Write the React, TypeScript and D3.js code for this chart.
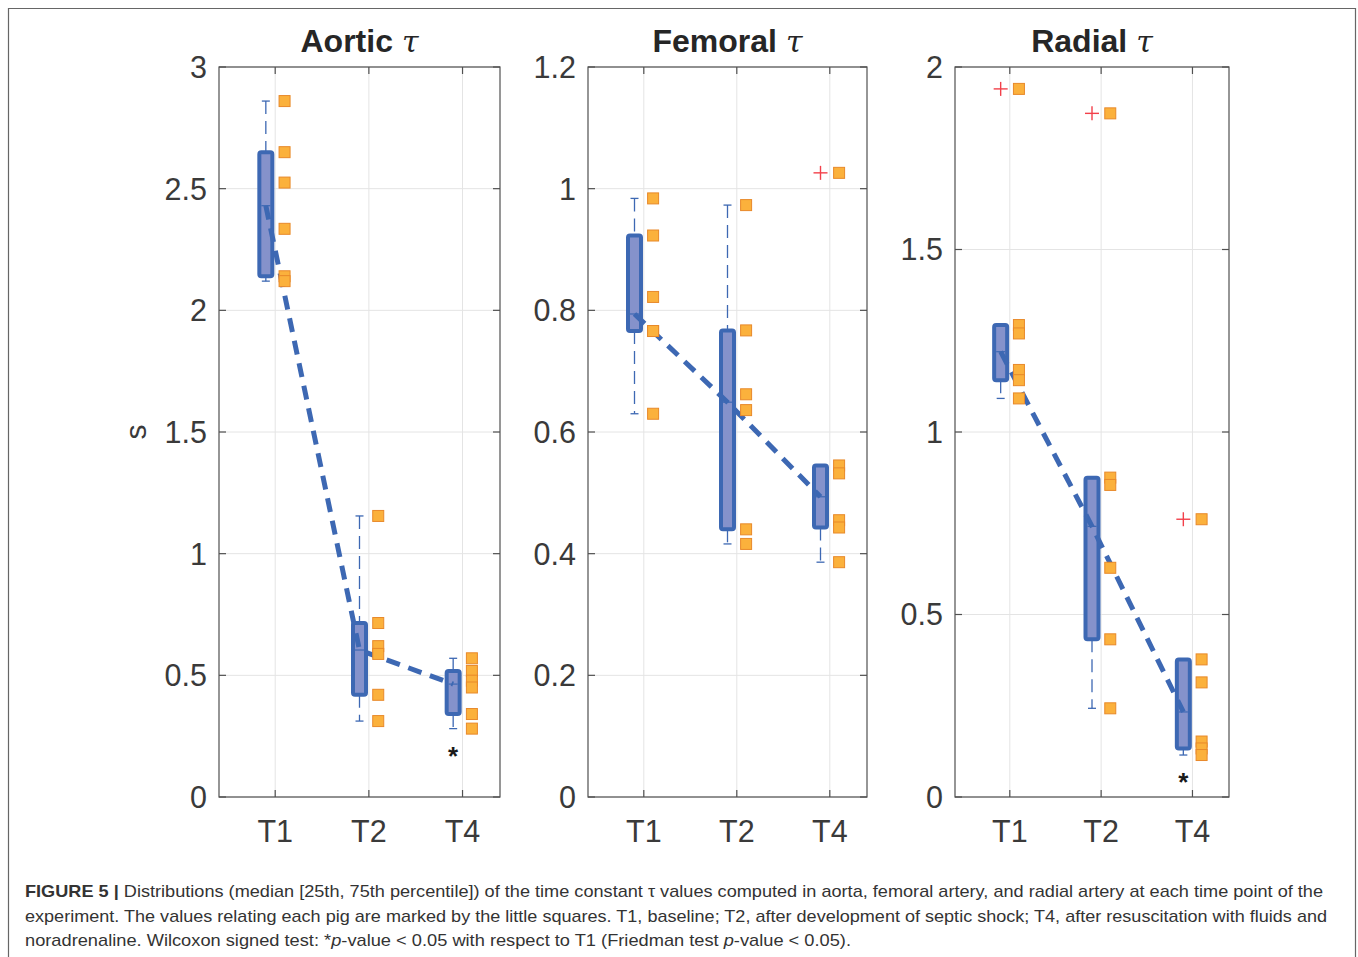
import React from "react";
import * as d3 from "d3";

const categories = ["T1", "T2", "T4"];
const panelTitles = ["Aortic", "Femoral", "Radial"];
const yMaxes = [3, 1.2, 2];
const aorticTicks = [0, 0.5, 1, 1.5, 2, 2.5, 3];
const femoralTicks = [0, 0.2, 0.4, 0.6, 0.8, 1, 1.2];
const radialTicks = [0, 0.5, 1, 1.5, 2];
const aorticTickLabels = ["0", "0.5", "1", "1.5", "2", "2.5", "3"];
const femoralTickLabels = ["0", "0.2", "0.4", "0.6", "0.8", "1", "1.2"];
const radialTickLabels = ["0", "0.5", "1", "1.5", "2"];

// values of each pig (6 pigs) per time point
const aorticT1 = [2.86, 2.65, 2.525, 2.335, 2.14, 2.12];
const aorticT2 = [1.155, 0.715, 0.62, 0.588, 0.42, 0.312];
const aorticT4 = [0.57, 0.518, 0.478, 0.45, 0.341, 0.281];
const femoralT1 = [0.984, 0.923, 0.822, 0.766, 0.766, 0.63];
const femoralT2 = [0.973, 0.767, 0.662, 0.636, 0.44, 0.416];
const femoralT4 = [1.026, 0.545, 0.532, 0.455, 0.443, 0.386];
const radialT1 = [1.94, 1.293, 1.27, 1.17, 1.142, 1.092];
const radialT2 = [1.873, 0.875, 0.855, 0.628, 0.432, 0.243];
const radialT4 = [0.761, 0.377, 0.314, 0.152, 0.133, 0.115];

// significance markers: [panel, category]
const starMarks = [
  [0, "T4"],
  [2, "T4"],
];

const captionLines = [
  " Distributions (median [25th, 75th percentile]) of the time constant τ values computed in aorta, femoral artery, and radial artery at each time point of the",
  "experiment. The values relating each pig are marked by the little squares. T1, baseline; T2, after development of septic shock; T4, after resuscitation with fluids and",
];

const panels = [
  { title: panelTitles[0], yMax: yMaxes[0], ticks: aorticTicks, labels: aorticTickLabels, series: [aorticT1, aorticT2, aorticT4], x0: 219, x1: 500 },
  { title: panelTitles[1], yMax: yMaxes[1], ticks: femoralTicks, labels: femoralTickLabels, series: [femoralT1, femoralT2, femoralT4], x0: 588, x1: 867 },
  { title: panelTitles[2], yMax: yMaxes[2], ticks: radialTicks, labels: radialTickLabels, series: [radialT1, radialT2, radialT4], x0: 955, x1: 1229 },
];

const TOP = 67;
const BOTTOM = 797;
const BOX_STROKE = "#3D68B3";
const BOX_FILL = "#8592CB";
const SQ_FILL = "#FBB13C";
const SQ_STROKE = "#E8892A";
const GRID = "#E4E4E4";
const AXIS = "#505050";
const TEXT = "#3A3A3A";

// MATLAB-style percentile
function prctile(vals: number[], p: number) {
  const s = [...vals].sort((a, b) => a - b);
  const n = s.length;
  const pos = (p / 100) * n + 0.5; // 1-based
  if (pos <= 1) return s[0];
  if (pos >= n) return s[n - 1];
  const lo = Math.floor(pos);
  const f = pos - lo;
  return s[lo - 1] + f * (s[lo] - s[lo - 1]);
}

function boxStats(vals: number[]) {
  const q1 = prctile(vals, 25);
  const q3 = prctile(vals, 75);
  const med = prctile(vals, 50);
  const iqr = q3 - q1;
  const inside = vals.filter((v) => v >= q1 - 1.5 * iqr && v <= q3 + 1.5 * iqr);
  const outliers = vals.filter((v) => v < q1 - 1.5 * iqr || v > q3 + 1.5 * iqr);
  return { q1, q3, med, lo: d3.min(inside)!, hi: d3.max(inside)!, outliers };
}

function Panel({ p, idx }: { p: typeof panels[0]; idx: number }) {
  const x = d3.scaleLinear().domain([0.4, 3.4]).range([p.x0, p.x1]);
  const y = d3.scaleLinear().domain([0, p.yMax]).range([BOTTOM, TOP]);
  const stats = p.series.map(boxStats);
  const line = d3
    .line<number>()
    .x((_, i) => x(i + 1 - 0.1))
    .y((d) => y(d));
  const boxW = 13;
  const sq = 11;
  const tickLen = 7;
  return (
    <g>
      {/* grid */}
      {p.ticks.map((t) => (
        <line key={"gy" + t} x1={p.x0} x2={p.x1} y1={y(t)} y2={y(t)} stroke={GRID} strokeWidth={1} />
      ))}
      {categories.map((c, i) => (
        <line key={"gx" + c} x1={x(i + 1)} x2={x(i + 1)} y1={TOP} y2={BOTTOM} stroke={GRID} strokeWidth={1} />
      ))}
      {/* frame */}
      <rect x={p.x0} y={TOP} width={p.x1 - p.x0} height={BOTTOM - TOP} fill="none" stroke={AXIS} strokeWidth={1.2} />
      {p.ticks.map((t) => (
        <g key={"t" + t}>
          <line x1={p.x0} x2={p.x0 + tickLen} y1={y(t)} y2={y(t)} stroke={AXIS} strokeWidth={1.2} />
          <line x1={p.x1} x2={p.x1 - tickLen} y1={y(t)} y2={y(t)} stroke={AXIS} strokeWidth={1.2} />
        </g>
      ))}
      {categories.map((c, i) => (
        <g key={"xt" + c}>
          <line x1={x(i + 1)} x2={x(i + 1)} y1={BOTTOM} y2={BOTTOM - tickLen} stroke={AXIS} strokeWidth={1.2} />
          <line x1={x(i + 1)} x2={x(i + 1)} y1={TOP} y2={TOP + tickLen} stroke={AXIS} strokeWidth={1.2} />
        </g>
      ))}
      {/* tick labels */}
      {p.ticks.map((t, i) => (
        <text key={"yl" + t} x={p.x0 - 12} y={y(t)} dy="0.36em" textAnchor="end" fontSize={30.5} fill={TEXT} fontFamily="Liberation Sans, Arial, sans-serif">
          {p.labels[i]}
        </text>
      ))}
      {categories.map((c, i) => (
        <text key={"xl" + c} x={x(i + 1)} y={842} textAnchor="middle" fontSize={30.5} fill={TEXT} fontFamily="Liberation Sans, Arial, sans-serif">
          {c}
        </text>
      ))}
      {/* title */}
      <text x={(p.x0 + p.x1) / 2} y={52} textAnchor="middle" fontSize={32} fontWeight="bold" fill="#262626" fontFamily="Liberation Sans, Arial, sans-serif">
        {p.title}
        <tspan fontFamily="DejaVu Serif, serif" fontStyle="italic" fontWeight="normal" fontSize={30} dx={9}>
          τ
        </tspan>
      </text>
      {idx === 0 && (
        <text transform={`translate(146,${(TOP + BOTTOM) / 2}) rotate(-90)`} textAnchor="middle" fontSize={30} fill={TEXT} fontFamily="Liberation Sans, Arial, sans-serif">
          s
        </text>
      )}
      {/* boxes */}
      {stats.map((s, i) => {
        const cx = x(i + 1 - 0.1);
        return (
          <g key={"box" + i}>
            <line x1={cx} x2={cx} y1={y(s.hi)} y2={y(s.q3)} stroke={BOX_STROKE} strokeWidth={1.3} strokeDasharray="13,7" />
            <line x1={cx} x2={cx} y1={y(s.q1)} y2={y(s.lo)} stroke={BOX_STROKE} strokeWidth={1.3} strokeDasharray="13,7" />
            <line x1={cx - 4} x2={cx + 4} y1={y(s.hi)} y2={y(s.hi)} stroke={BOX_STROKE} strokeWidth={1.3} />
            <line x1={cx - 4} x2={cx + 4} y1={y(s.lo)} y2={y(s.lo)} stroke={BOX_STROKE} strokeWidth={1.3} />
            <rect x={cx - boxW / 2} y={y(s.q3)} width={boxW} height={y(s.q1) - y(s.q3)} fill={BOX_FILL} stroke={BOX_STROKE} strokeWidth={4} rx={2} />
            <line x1={cx - boxW / 2 + 2} x2={cx + boxW / 2 - 2} y1={y(s.med)} y2={y(s.med)} stroke={BOX_STROKE} strokeWidth={1.2} />
            {s.outliers.map((o, k) => (
              <g key={"o" + k} stroke="#F2404A" strokeWidth={1.4}>
                <line x1={cx - 7} x2={cx + 7} y1={y(o)} y2={y(o)} />
                <line x1={cx} x2={cx} y1={y(o) - 7} y2={y(o) + 7} />
              </g>
            ))}
          </g>
        );
      })}
      {/* median connecting line */}
      <path d={line(stats.map((s) => s.med))!} fill="none" stroke={BOX_STROKE} strokeWidth={5} strokeDasharray="14,9" />
      {/* squares */}
      {p.series.map((vals, i) =>
        vals.map((v, k) => (
          <rect key={"sq" + i + "_" + k} x={x(i + 1 + 0.1) - sq / 2} y={y(v) - sq / 2} width={sq} height={sq} fill={SQ_FILL} stroke={SQ_STROKE} strokeWidth={1} />
        ))
      )}
      {/* stars */}
      {starMarks
        .filter((m) => m[0] === idx)
        .map((m) => {
          const ci = categories.indexOf(m[1] as string);
          const s = stats[ci];
          return (
            <text key={"star" + ci} x={x(ci + 1 - 0.1)} y={y(s.lo) + 36} textAnchor="middle" fontSize={26} fontWeight="bold" fill="#1a1a1a" fontFamily="Liberation Sans, Arial, sans-serif">
              *
            </text>
          );
        })}
    </g>
  );
}

export default function App() {
  const capFont = "Liberation Sans, Arial, sans-serif";
  return (
    <svg width={1358} height={957} style={{ position: "absolute", left: 0, top: 0, background: "#fff" }}>
      <rect x={0} y={0} width={1358} height={957} fill="#fff" />
      <path d="M8.5,968 L8.5,8.5 L1355.5,8.5 L1355.5,968" fill="none" stroke="#666" strokeWidth={1.2} />
      {panels.map((p, i) => (
        <Panel key={p.title} p={p} idx={i} />
      ))}
      <text x={25} y={897} fontSize={17} fill="#333" fontFamily={capFont} textLength={1298} lengthAdjust="spacingAndGlyphs">
        <tspan fontWeight="bold">FIGURE 5 |</tspan>
        {captionLines[0]}
      </text>
      <text x={25} y={921.5} fontSize={17} fill="#333" fontFamily={capFont} textLength={1302} lengthAdjust="spacingAndGlyphs">
        {captionLines[1]}
      </text>
      <text x={25} y={946} fontSize={17} fill="#333" fontFamily={capFont} textLength={826} lengthAdjust="spacingAndGlyphs">
        noradrenaline. Wilcoxon signed test: *<tspan fontStyle="italic">p</tspan>-value {"<"} 0.05 with respect to T1 (Friedman test{" "}
        <tspan fontStyle="italic">p</tspan>-value {"<"} 0.05).
      </text>
    </svg>
  );
}
